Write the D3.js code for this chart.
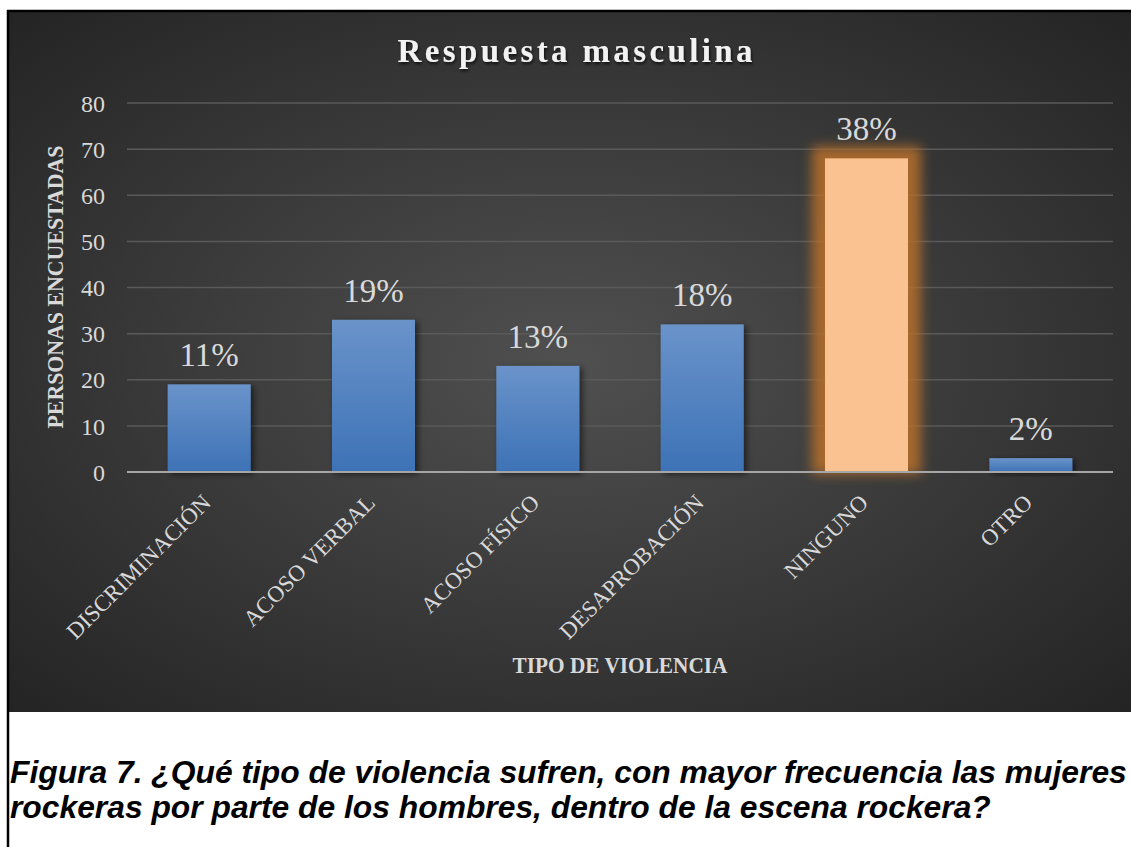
<!DOCTYPE html>
<html lang="es">
  <head>
    <meta charset="UTF-8" />
    <script src="https://d3js.org/d3.v7.min.js"></script>
    <title>Respuesta masculina</title>
    <style>
      html, body {
        margin: 0;
        padding: 0;
        background: #ffffff;
      }
      svg {
        display: block;
      }
    </style>
  </head>
  <body>
    <script>
      // datos
      const categories = ['DISCRIMINACIÓN', 'ACOSO VERBAL', 'ACOSO FÍSICO', 'DESAPROBACIÓN', 'NINGUNO', 'OTRO']
      const values = [19, 33, 23, 32, 68, 3]
      const percents = ['11%', '19%', '13%', '18%', '38%', '2%']
      const yTicks = [0, 10, 20, 30, 40, 50, 60, 70, 80]
      const highlight = 'NINGUNO'
      const captionLines = [
        'Figura 7. ¿Qué tipo de violencia sufren, con mayor frecuencia las mujeres',
        'rockeras por parte de los hombres, dentro de la escena rockera?',
      ]

      const W = 1131, H = 847
      const panel = { x: 9, y: 12, w: 1122, h: 700 }
      const plot = { left: 127, right: 1113, top: 103, bottom: 472 }
      const serif = "'Liberation Serif', 'DejaVu Serif', serif"

      const svg = d3.select('body').append('svg').attr('width', W).attr('height', H)
      const defs = svg.append('defs')

      // fondo degradado radial
      const bg = defs.append('radialGradient').attr('id', 'bg')
        .attr('cx', '50%').attr('cy', '50%').attr('r', '72%')
      bg.append('stop').attr('offset', '0%').attr('stop-color', '#505050')
      bg.append('stop').attr('offset', '100%').attr('stop-color', '#232323')

      const blue = defs.append('linearGradient').attr('id', 'blue')
        .attr('x1', 0).attr('y1', 0).attr('x2', 0).attr('y2', 1)
      blue.append('stop').attr('offset', '0%').attr('stop-color', '#6a93ca')
      blue.append('stop').attr('offset', '100%').attr('stop-color', '#3d72b6')

      const shadow = defs.append('filter').attr('id', 'shadow')
        .attr('x', '-20%').attr('y', '-20%').attr('width', '150%').attr('height', '150%')
      shadow.append('feDropShadow').attr('dx', 3).attr('dy', 2).attr('stdDeviation', 3)
        .attr('flood-color', '#000').attr('flood-opacity', 0.55)

      const tshadow = defs.append('filter').attr('id', 'tshadow')
      tshadow.append('feDropShadow').attr('dx', 1).attr('dy', 2).attr('stdDeviation', 1.5)
        .attr('flood-color', '#000').attr('flood-opacity', 0.7)

      const glow = defs.append('filter').attr('id', 'glow')
        .attr('x', '-50%').attr('y', '-20%').attr('width', '200%').attr('height', '140%')
      glow.append('feGaussianBlur').attr('stdDeviation', 6)

      // marco y panel
      svg.append('rect').attr('x', panel.x).attr('y', panel.y)
        .attr('width', panel.w).attr('height', panel.h).attr('fill', 'url(#bg)')
      svg.append('line').attr('x1', 7).attr('x2', W).attr('y1', 11).attr('y2', 11)
        .attr('stroke', '#000').attr('stroke-width', 2.5)
      svg.append('line').attr('x1', 8).attr('x2', 8).attr('y1', 10).attr('y2', H)
        .attr('stroke', '#000').attr('stroke-width', 2.5)

      const x = d3.scaleBand().domain(categories)
        .range([plot.left, plot.right]).paddingInner(0.495).paddingOuter(0.2475)
      const y = d3.scaleLinear().domain([0, 80]).range([plot.bottom, plot.top])

      // rejilla
      svg.append('g').selectAll('line').data(yTicks.filter((d) => d > 0)).join('line')
        .attr('x1', plot.left).attr('x2', plot.right)
        .attr('y1', (d) => y(d)).attr('y2', (d) => y(d))
        .attr('stroke', '#5a5a5a').attr('stroke-width', 1.5)

      // eje y
      const yAxis = svg.append('g').attr('transform', `translate(${plot.left - 22},0)`)
        .call(d3.axisLeft(y).tickValues(yTicks).tickSize(0).tickPadding(0))
      yAxis.select('.domain').remove()
      yAxis.selectAll('text').attr('fill', '#d9d9d9').attr('font-family', serif)
        .attr('font-size', 24).attr('dy', '0.34em')

      // barras
      const bars = svg.append('g')
      bars.selectAll('rect.glow').data(categories.filter((c) => c === highlight)).join('rect')
        .attr('class', 'glow')
        .attr('x', (c) => x(c) - 13).attr('width', x.bandwidth() + 26)
        .attr('y', (c) => y(values[categories.indexOf(c)]) - 12)
        .attr('height', (c) => y(0) - y(values[categories.indexOf(c)]) + 14)
        .attr('fill', '#b8702a').attr('opacity', 0.85).attr('filter', 'url(#glow)')
      bars.selectAll('rect.bar').data(categories).join('rect')
        .attr('class', 'bar')
        .attr('x', (c) => x(c)).attr('width', x.bandwidth())
        .attr('y', (c, i) => y(values[i])).attr('height', (c, i) => y(0) - y(values[i]))
        .attr('fill', (c) => (c === highlight ? '#f9c290' : 'url(#blue)'))
        .attr('filter', (c) => (c === highlight ? null : 'url(#shadow)'))

      // linea base
      svg.append('line').attr('x1', plot.left).attr('x2', plot.right)
        .attr('y1', y(0)).attr('y2', y(0)).attr('stroke', '#a6a6a6').attr('stroke-width', 2)

      // etiquetas de porcentaje
      svg.append('g').selectAll('text').data(categories).join('text')
        .attr('x', (c) => x(c) + x.bandwidth() / 2)
        .attr('y', (c, i) => y(values[i]) - 18)
        .attr('text-anchor', 'middle').attr('fill', '#d9d9d9')
        .attr('font-family', serif).attr('font-size', 33)
        .text((c, i) => percents[i])

      // etiquetas de categoria
      svg.append('g').selectAll('text').data(categories).join('text')
        .attr('transform', (c) => `translate(${x(c) + x.bandwidth() / 2 + 3},${plot.bottom + 32}) rotate(-45)`)
        .attr('text-anchor', 'end').attr('fill', '#d9d9d9')
        .attr('font-family', serif).attr('font-size', 23)
        .text((c) => c)

      // titulos
      svg.append('text').attr('x', 575).attr('y', 62).attr('text-anchor', 'middle')
        .attr('fill', '#f2f2f2').attr('font-family', serif).attr('font-weight', 'bold')
        .attr('font-size', 33).attr('textLength', 355).attr('lengthAdjust', 'spacing')
        .attr('filter', 'url(#tshadow)')
        .text('Respuesta masculina')

      svg.append('text').attr('transform', 'translate(63,287) rotate(-90)')
        .attr('text-anchor', 'middle').attr('fill', '#d9d9d9')
        .attr('font-family', serif).attr('font-weight', 'bold').attr('font-size', 24)
        .attr('textLength', 283).attr('lengthAdjust', 'spacingAndGlyphs')
        .text('PERSONAS ENCUESTADAS')

      svg.append('text').attr('x', 620).attr('y', 673).attr('text-anchor', 'middle')
        .attr('fill', '#d9d9d9').attr('font-family', serif).attr('font-weight', 'bold')
        .attr('font-size', 24).attr('textLength', 215).attr('lengthAdjust', 'spacingAndGlyphs')
        .text('TIPO DE VIOLENCIA')

      // leyenda de la figura
      svg.append('g').selectAll('text').data(captionLines).join('text')
        .attr('x', 10).attr('y', (d, i) => 783 + i * 35)
        .attr('fill', '#000').attr('font-family', "'Liberation Sans', Arial, sans-serif")
        .attr('font-weight', 'bold').attr('font-style', 'italic').attr('font-size', 31.8)
        .text((d) => d)
    </script>
  </body>
</html>
